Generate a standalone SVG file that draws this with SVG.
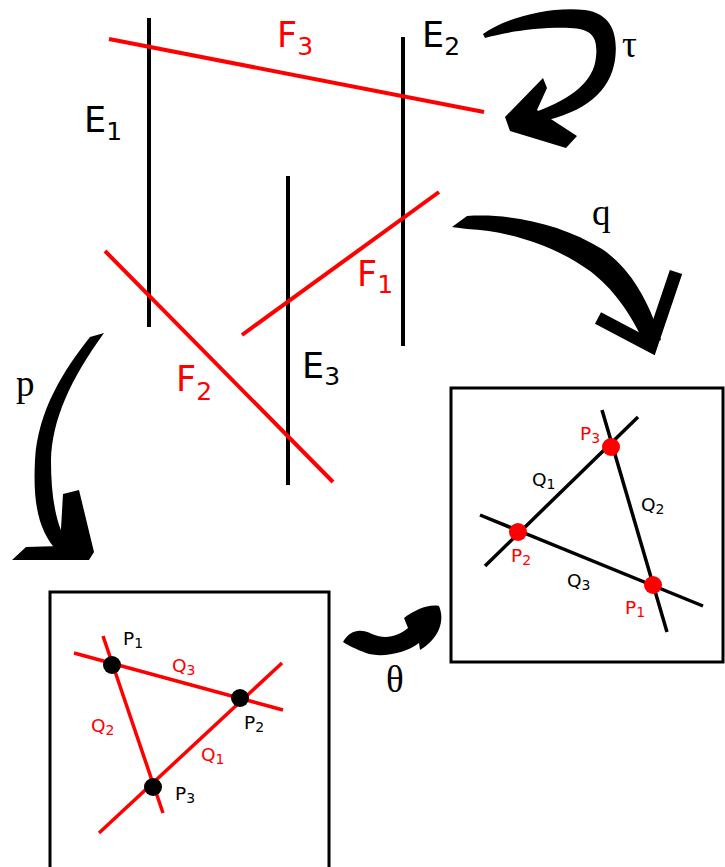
<svg xmlns="http://www.w3.org/2000/svg" width="725" height="867" viewBox="0 0 725 867">
<style>
.blk{stroke:#000;stroke-width:4;fill:none}
.red{stroke:#ff0000;stroke-width:4;fill:none}
.box{stroke:#000;stroke-width:3;fill:#fff}
.tl{stroke:#000;stroke-width:3.5;fill:none}
.tr{stroke:#ff0000;stroke-width:3.5;fill:none}
.lab{font-family:"DejaVu Sans",Verdana,sans-serif;font-size:35px}
.sm{font-family:"DejaVu Sans",Verdana,sans-serif;font-size:18.5px}
.gr{font-family:"Liberation Serif","Times New Roman",serif;font-size:37px;fill:#000}
.arrow{fill:#000;stroke:none}
.barb{stroke:#000;stroke-width:13;fill:none;stroke-linecap:butt;stroke-linejoin:miter}
</style>
<rect width="725" height="867" fill="#fff"/>
<g id="lines">
  <line id="E1" class="blk" x1="149" y1="18" x2="149" y2="327"/>
  <line id="E2" class="blk" x1="403" y1="37" x2="403" y2="346"/>
  <line id="E3" class="blk" x1="288" y1="176" x2="288" y2="485"/>
  <line id="F3" class="red" x1="109" y1="39" x2="484" y2="112"/>
  <line id="F1" class="red" x1="242" y1="335" x2="439" y2="192"/>
  <line id="F2" class="red" x1="105" y1="251" x2="333" y2="482"/>
</g>
<g id="labels">
  <text class="lab" x="84" y="132" fill="#000">E<tspan font-size="25" dy="8">1</tspan></text>
  <text class="lab" x="422" y="47" fill="#000">E<tspan font-size="25" dy="8">2</tspan></text>
  <text class="lab" x="302" y="378" fill="#000">E<tspan font-size="25" dy="7">3</tspan></text>
  <text class="lab" x="277" y="47" fill="#ff0000">F<tspan font-size="25" dy="8">3</tspan></text>
  <text class="lab" x="357" y="286" fill="#ff0000">F<tspan font-size="25" dy="7">1</tspan></text>
  <text class="lab" x="176" y="391" fill="#ff0000">F<tspan font-size="25" dy="9">2</tspan></text>
</g>
<g id="connectors">
  <g id="tau-arrow">
    <path class="arrow" d="M483,34 C505,18 550,6 585,10 C614,14 618,38 615,60 C610,92 585,112 540,122 L538,111 C570,99 594,82 596,57 C598,37 592,29 570,28 C540,27 505,32 485,38 Z"/>
    <path class="arrow" d="M543,78 L547,88 L537,110 L577,136 L566,148 L510,131 L505,117 Z"/>
    <text class="gr" x="622" y="57">τ</text>
  </g>
  <g id="q-arrow">
    <path class="arrow" d="M452,227 L467,216 C510,213 562,224 602,249 C627,266 647,295 661,340 L645,345 C630,311 612,288 590,271 C555,246 510,231 467,229 Z"/>
    <path class="barb" d="M598,318 L651,346 L676,272"/>
    <text class="gr" x="592" y="225">q</text>
  </g>
  <g id="p-arrow">
    <path class="arrow" d="M104,333 L90,337 C64,370 38,410 35,460 C33,500 37,530 58,552 L70,548 C55,525 51,495 51,460 C52,420 70,380 104,333 Z"/>
    <path class="arrow" d="M63,494 L79,490 L94,552 L89,560 L12,560 L26,547 L60,546 Z"/>
    <text class="gr" x="16" y="396">p</text>
  </g>
  <g id="theta-arrow">
    <path class="arrow" d="M343,642 C350,630 360,628 372,634 C386,640 398,636 408,628 L404,618 C415,610 428,604 439,606 C445,620 440,638 420,650 L419,643 C405,654 380,658 366,653 C356,649 349,646 343,642 Z"/>
    <text class="gr" x="386" y="692">θ</text>
  </g>
</g>
<g id="box-right">
  <rect class="box" x="451" y="388" width="272" height="274"/>
  <line class="tl" x1="485" y1="566" x2="638" y2="417"/>
  <line class="tl" x1="602" y1="410" x2="667" y2="632"/>
  <line class="tl" x1="480" y1="515" x2="703" y2="606"/>
  <circle cx="611" cy="447" r="9" fill="#ff0000"/>
  <circle cx="518" cy="532" r="9" fill="#ff0000"/>
  <circle cx="653" cy="585" r="9" fill="#ff0000"/>
  <text class="sm" x="580" y="440" fill="#ff0000">P<tspan font-size="14" dy="3">3</tspan></text>
  <text class="sm" x="511" y="562" fill="#ff0000">P<tspan font-size="14" dy="3">2</tspan></text>
  <text class="sm" x="625" y="614" fill="#ff0000">P<tspan font-size="14" dy="3">1</tspan></text>
  <text class="sm" x="532" y="486" fill="#000">Q<tspan font-size="14" dy="3">1</tspan></text>
  <text class="sm" x="641" y="511" fill="#000">Q<tspan font-size="14" dy="3">2</tspan></text>
  <text class="sm" x="567" y="587" fill="#000">Q<tspan font-size="14" dy="3">3</tspan></text>
</g>
<g id="box-left">
  <rect class="box" x="50" y="592" width="279" height="280"/>
  <line class="tr" x1="103" y1="636" x2="163" y2="813"/>
  <line class="tr" x1="74" y1="653" x2="283" y2="710"/>
  <line class="tr" x1="99" y1="833" x2="282" y2="663"/>
  <circle cx="112" cy="665" r="9" fill="#000"/>
  <circle cx="240" cy="698" r="9" fill="#000"/>
  <circle cx="153" cy="787" r="9" fill="#000"/>
  <text class="sm" x="123" y="645" fill="#000">P<tspan font-size="14" dy="3">1</tspan></text>
  <text class="sm" x="244" y="729" fill="#000">P<tspan font-size="14" dy="3">2</tspan></text>
  <text class="sm" x="175" y="800" fill="#000">P<tspan font-size="14" dy="3">3</tspan></text>
  <text class="sm" x="172" y="672" fill="#ff0000">Q<tspan font-size="14" dy="3">3</tspan></text>
  <text class="sm" x="91" y="732" fill="#ff0000">Q<tspan font-size="14" dy="3">2</tspan></text>
  <text class="sm" x="201" y="761" fill="#ff0000">Q<tspan font-size="14" dy="3">1</tspan></text>
</g>
</svg>
